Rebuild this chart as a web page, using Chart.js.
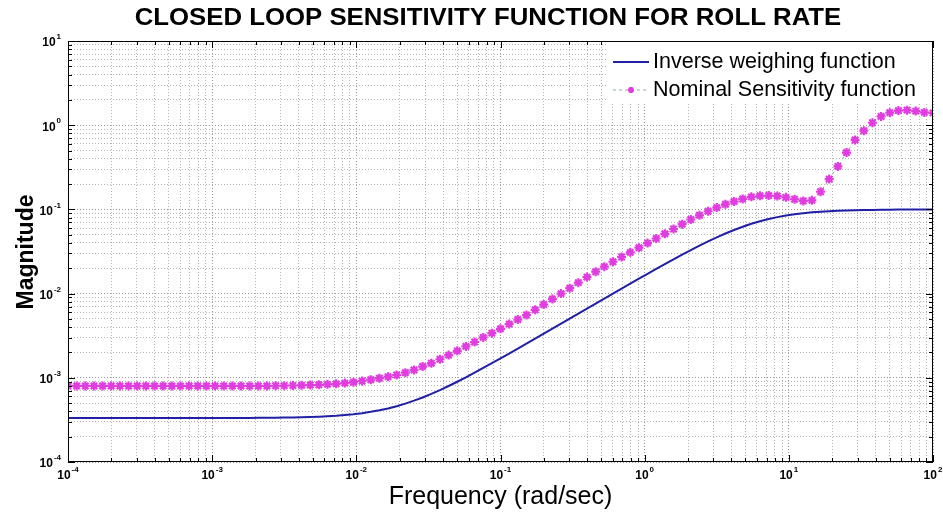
<!DOCTYPE html>
<html>
<head>
<meta charset="utf-8">
<script src="https://cdn.jsdelivr.net/npm/chart.js@4/dist/chart.umd.min.js"></script>
<style>
  html, body { margin: 0; padding: 0; background: #ffffff; }
  #wrap { width: 943px; height: 512px; }
</style>
</head>
<body>
<div id="wrap"><canvas id="c" width="943" height="512"></canvas></div>
<script>
// ---------- texts ----------
const chartTitle = 'CLOSED LOOP SENSITIVITY FUNCTION FOR ROLL RATE';
const xAxisTitle = 'Frequency (rad/sec)';
const yAxisTitle = 'Magnitude';
const seriesNames = ['Inverse weighing function', 'Nominal Sensitivity function'];

// ---------- tick labels (powers of ten) ----------
const xTickExponents = [-4, -3, -2, -1, 0, 1, 2];
const yTickExponents = [-4, -3, -2, -1, 0, 1];

// ---------- frequencies (rad/sec) ----------
const frequency = [
  1.000e-4, 1.148e-4, 1.318e-4, 1.514e-4, 1.738e-4, 1.995e-4, 2.291e-4, 2.630e-4, 3.020e-4, 3.467e-4,
  3.981e-4, 4.571e-4, 5.248e-4, 6.026e-4, 6.918e-4, 7.943e-4, 9.120e-4, 1.047e-3, 1.202e-3, 1.380e-3,
  1.585e-3, 1.820e-3, 2.089e-3, 2.399e-3, 2.754e-3, 3.162e-3, 3.631e-3, 4.169e-3, 4.786e-3, 5.495e-3,
  6.310e-3, 7.244e-3, 8.318e-3, 9.550e-3, 1.096e-2, 1.259e-2, 1.445e-2, 1.660e-2, 1.905e-2, 2.188e-2,
  2.512e-2, 2.884e-2, 3.311e-2, 3.802e-2, 4.365e-2, 5.012e-2, 5.754e-2, 6.607e-2, 7.586e-2, 8.710e-2,
  0.1000, 0.1148, 0.1318, 0.1514, 0.1738, 0.1995, 0.2291, 0.2630, 0.3020, 0.3467,
  0.3981, 0.4571, 0.5248, 0.6026, 0.6918, 0.7943, 0.9120, 1.047, 1.202, 1.380,
  1.585, 1.820, 2.089, 2.399, 2.754, 3.162, 3.631, 4.169, 4.786, 5.495,
  6.310, 7.244, 8.318, 9.550, 10.96, 12.59, 14.45, 16.60, 19.05, 21.88,
  25.12, 28.84, 33.11, 38.02, 43.65, 50.12, 57.54, 66.07, 75.86, 87.10,
  100.0
];

// ---------- series: inverse weighing function ----------
const inverseWeight = [
  3.33e-4, 3.33e-4, 3.33e-4, 3.33e-4, 3.33e-4, 3.33e-4, 3.33e-4, 3.33e-4, 3.33e-4, 3.33e-4,
  3.33e-4, 3.33e-4, 3.33e-4, 3.33e-4, 3.33e-4, 3.33e-4, 3.33e-4, 3.33e-4, 3.33e-4, 3.33e-4,
  3.34e-4, 3.34e-4, 3.35e-4, 3.35e-4, 3.36e-4, 3.37e-4, 3.38e-4, 3.40e-4, 3.42e-4, 3.45e-4,
  3.49e-4, 3.54e-4, 3.61e-4, 3.69e-4, 3.80e-4, 3.94e-4, 4.11e-4, 4.33e-4, 4.60e-4, 4.94e-4,
  5.35e-4, 5.84e-4, 6.44e-4, 7.15e-4, 7.99e-4, 8.98e-4, 1.01e-3, 1.15e-3, 1.31e-3, 1.49e-3,
  1.70e-3, 1.94e-3, 2.22e-3, 2.54e-3, 2.91e-3, 3.34e-3, 3.83e-3, 4.39e-3, 5.03e-3, 5.77e-3,
  6.62e-3, 7.60e-3, 8.71e-3, 9.99e-3, 0.01145, 0.01312, 0.01502, 0.01718, 0.01964, 0.0224,
  0.0255, 0.0290, 0.0328, 0.0371, 0.0417, 0.0466, 0.0517, 0.0570, 0.0623, 0.0675,
  0.0724, 0.0769, 0.0810, 0.0846, 0.0876, 0.0902, 0.0922, 0.0939, 0.0952, 0.0963,
  0.0971, 0.0978, 0.0983, 0.0987, 0.0990, 0.0992, 0.0994, 0.0995, 0.0996, 0.0997,
  0.0998
];

// ---------- series: nominal sensitivity function ----------
const nominalSensitivity = [
  8.0e-4, 8.0e-4, 8.0e-4, 8.0e-4, 8.0e-4, 8.0e-4, 8.0e-4, 8.0e-4, 8.0e-4, 8.0e-4,
  8.0e-4, 8.0e-4, 8.0e-4, 8.0e-4, 8.0e-4, 8.0e-4, 8.0e-4, 8.0e-4, 8.0e-4, 8.0e-4,
  8.0e-4, 8.0e-4, 8.0e-4, 8.0e-4, 8.05e-4, 8.07e-4, 8.1e-4, 8.15e-4, 8.2e-4, 8.26e-4,
  8.36e-4, 8.47e-4, 8.65e-4, 8.87e-4, 9.16e-4, 9.5e-4, 9.89e-4, 1.03e-3, 1.08e-3, 1.15e-3,
  1.24e-3, 1.36e-3, 1.49e-3, 1.66e-3, 1.86e-3, 2.09e-3, 2.36e-3, 2.66e-3, 3.02e-3, 3.39e-3,
  3.82e-3, 4.34e-3, 4.92e-3, 5.57e-3, 6.41e-3, 7.41e-3, 8.61e-3, 0.0100, 0.0116, 0.0135,
  0.0157, 0.0182, 0.0209, 0.0239, 0.0272, 0.0309, 0.0351, 0.0398, 0.0451, 0.0513,
  0.0585, 0.0667, 0.0759, 0.0851, 0.0951, 0.105, 0.115, 0.124, 0.133, 0.141,
  0.145, 0.146, 0.144, 0.139, 0.132, 0.126, 0.128, 0.162, 0.229, 0.324,
  0.473, 0.668, 0.861, 1.07, 1.27, 1.41, 1.49, 1.51, 1.47, 1.42,
  1.40
];

// ---------- styling ----------
const FONT = '"Liberation Sans", Arial, Helvetica, sans-serif';
const blueColor = '#2020a4';
const markerColor = '#e03ce0';
const dashLineColor = '#86b486';

// log grid values: 1..9 x each decade between the first and last exponent
function logGrid(exps) {
  const out = [];
  for (let e = exps[0]; e < exps[exps.length - 1]; e++) {
    for (let m = 1; m <= 9; m++) out.push({ value: m * Math.pow(10, e), major: m === 1 });
  }
  out.push({ value: Math.pow(10, exps[exps.length - 1]), major: true });
  return out;
}

function gridColor(ctx) {
  return ctx.tick && ctx.tick.major ? '#969696' : '#b4b4b4';
}

function drawPow(ctx, exp, x, y, align) {
  ctx.save();
  ctx.fillStyle = '#000';
  ctx.textBaseline = 'middle';
  ctx.textAlign = 'left';
  const baseFont = 'bold 12px ' + FONT;
  const expFont = 'bold 8px ' + FONT;
  ctx.font = baseFont;
  const w10 = ctx.measureText('10').width;
  ctx.font = expFont;
  const expStr = String(exp);
  const wExp = ctx.measureText(expStr).width;
  const total = w10 + wExp + 1;
  const start = align === 'center' ? x - total / 2 : x - total;
  ctx.font = baseFont;
  ctx.fillText('10', start, y);
  ctx.font = expFont;
  ctx.fillText(expStr, start + w10 + 1, y - 6);
  ctx.restore();
}

const decorPlugin = {
  id: 'matlabDecor',
  afterDatasetsDraw(chart) {
    const { ctx, chartArea: a, scales } = chart;
    const xs = scales.x, ys = scales.y;
    ctx.save();
    // axes frame
    ctx.strokeStyle = '#000';
    ctx.lineWidth = 1;
    ctx.setLineDash([]);
    ctx.strokeRect(a.left + 0.5, a.top + 0.5, a.right - a.left - 1, a.bottom - a.top - 1);
    // inward tick marks
    ctx.beginPath();
    xs.ticks.forEach(t => {
      const px = Math.round(xs.getPixelForValue(t.value)) + 0.5;
      const len = t.major ? 7 : 4;
      ctx.moveTo(px, a.bottom); ctx.lineTo(px, a.bottom - len);
      ctx.moveTo(px, a.top); ctx.lineTo(px, a.top + len);
    });
    ys.ticks.forEach(t => {
      const py = Math.round(ys.getPixelForValue(t.value)) + 0.5;
      const len = t.major ? 7 : 4;
      ctx.moveTo(a.left, py); ctx.lineTo(a.left + len, py);
      ctx.moveTo(a.right, py); ctx.lineTo(a.right - len, py);
    });
    ctx.stroke();
    ctx.restore();

    // tick labels
    xTickExponents.forEach(e => {
      drawPow(ctx, e, xs.getPixelForValue(Math.pow(10, e)), a.bottom + 14, 'center');
    });
    yTickExponents.forEach(e => {
      drawPow(ctx, e, 61, ys.getPixelForValue(Math.pow(10, e)) + 2, 'right');
    });

    // axis titles & chart title
    ctx.save();
    ctx.fillStyle = '#000';
    ctx.textAlign = 'center';
    ctx.textBaseline = 'middle';
    ctx.save();
    ctx.translate(488, 19);
    ctx.scale(1.12, 1);
    ctx.font = 'bold 23px ' + FONT;
    ctx.fillText(chartTitle, 0, 0);
    ctx.restore();
    ctx.font = '25px ' + FONT;
    ctx.fillText(xAxisTitle, (a.left + a.right) / 2, 497);
    ctx.translate(27, 252);
    ctx.rotate(-Math.PI / 2);
    ctx.font = 'bold 23px ' + FONT;
    ctx.fillText(yAxisTitle, 0, 0);
    ctx.restore();

    // legend
    ctx.save();
    const lx = 606, ly = a.top + 1, lw = a.right - 1 - lx, lh = 60;
    ctx.fillStyle = '#ffffff';
    ctx.fillRect(lx, ly, lw, lh);
    ctx.font = '21.5px ' + FONT;
    ctx.textBaseline = 'middle';
    ctx.textAlign = 'left';
    const ds = chart.data.datasets;
    // entry 1
    let ey = 62;
    ctx.strokeStyle = ds[0].borderColor;
    ctx.lineWidth = ds[0].borderWidth;
    ctx.setLineDash([]);
    ctx.beginPath(); ctx.moveTo(613, ey); ctx.lineTo(649, ey); ctx.stroke();
    ctx.fillStyle = '#000';
    ctx.fillText(ds[0].label, 653, ey);
    // entry 2
    ey = 90;
    ctx.strokeStyle = ds[1].borderColor;
    ctx.lineWidth = ds[1].borderWidth;
    ctx.setLineDash(ds[1].borderDash);
    ctx.beginPath(); ctx.moveTo(613, ey); ctx.lineTo(649, ey); ctx.stroke();
    ctx.setLineDash([]);
    ctx.strokeStyle = ds[1].pointBorderColor;
    ctx.fillStyle = ds[1].pointBackgroundColor;
    ctx.lineWidth = ds[1].pointBorderWidth;
    Chart.helpers.drawPoint(ctx, { pointStyle: 'star', radius: 3, rotation: 0, borderWidth: ds[1].pointBorderWidth }, 631, ey);
    ctx.fillStyle = '#000';
    ctx.fillText(ds[1].label, 653, ey);
    ctx.restore();
  }
};

const inverseData = frequency.map((f, i) => ({ x: f, y: inverseWeight[i] }));
const nominalData = frequency.map((f, i) => ({ x: f, y: nominalSensitivity[i] }));

new Chart(document.getElementById('c'), {
  type: 'line',
  data: {
    datasets: [
      {
        label: seriesNames[0],
        data: inverseData,
        borderColor: blueColor,
        backgroundColor: blueColor,
        borderWidth: 2,
        pointRadius: 0,
        tension: 0,
        fill: false
      },
      {
        label: seriesNames[1],
        data: nominalData,
        borderColor: dashLineColor,
        backgroundColor: markerColor,
        borderWidth: 1,
        borderDash: [3, 3],
        pointStyle: 'star',
        pointRadius: 4.5,
        pointBorderWidth: 2.2,
        pointBorderColor: markerColor,
        pointBackgroundColor: markerColor,
        tension: 0,
        fill: false
      }
    ]
  },
  options: {
    responsive: false,
    devicePixelRatio: 1,
    animation: false,
    events: [],
    layout: { padding: { top: 41, right: 10, bottom: 0, left: 0 } },
    plugins: {
      legend: { display: false },
      title: { display: false },
      tooltip: { enabled: false }
    },
    scales: {
      x: {
        type: 'logarithmic',
        position: 'bottom',
        min: 1e-4,
        max: 100,
        afterBuildTicks: s => { s.ticks = logGrid(xTickExponents); },
        afterFit: s => { s.height = 50; },
        ticks: { callback: () => '', autoSkip: false, maxRotation: 0, padding: 0 },
        grid: { color: gridColor, lineWidth: 1, drawTicks: false, tickLength: 0 },
        border: { display: false, dash: [1, 2] }
      },
      y: {
        type: 'logarithmic',
        position: 'left',
        min: 1e-4,
        max: 10,
        afterBuildTicks: s => { s.ticks = logGrid(yTickExponents); },
        afterFit: s => { s.width = 68; },
        ticks: { callback: () => '', autoSkip: false, padding: 0 },
        grid: { color: gridColor, lineWidth: 1, drawTicks: false, tickLength: 0 },
        border: { display: false, dash: [1, 2] }
      }
    }
  },
  plugins: [decorPlugin]
});
</script>
</body>
</html>
